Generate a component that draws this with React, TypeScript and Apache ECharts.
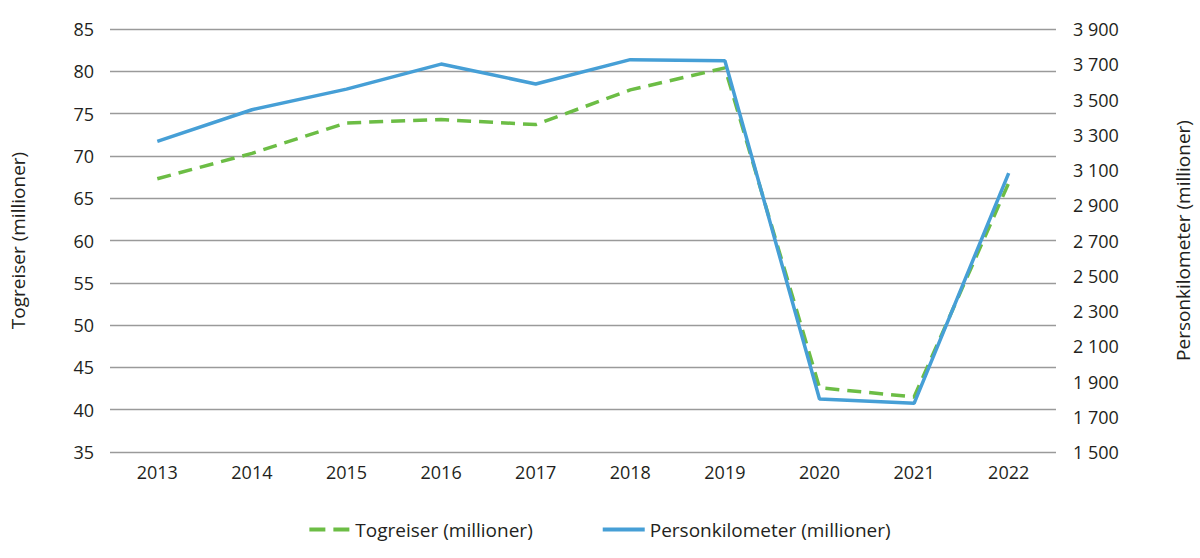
import React, { useEffect, useRef } from "react";
import * as echarts from "echarts";

const years = ["2013", "2014", "2015", "2016", "2017", "2018", "2019", "2020", "2021", "2022"];
const togreiser = [67.3, 70.3, 73.9, 74.3, 73.7, 77.8, 80.4, 42.6, 41.5, 66.8];
const personkm = [3262, 3442, 3559, 3701, 3588, 3726, 3720, 1801, 1776, 3082];
const rightTicks = [1500, 1700, 1900, 2100, 2300, 2500, 2700, 2900, 3100, 3300, 3500, 3700, 3900];
const seriesNames = ["Togreiser (millioner)", "Personkilometer (millioner)"];

const FONT = "'Open Sans', sans-serif";
const TXT = "#231f20";
const GREEN = "#6cbd45";
const BLUE = "#469fd6";

export default function App() {
  const ref = useRef<HTMLDivElement>(null);
  useEffect(() => {
    if (!ref.current) return;
    const chart = echarts.init(ref.current, undefined, { renderer: "svg" });
    chart.setOption({
      animation: false,
      textStyle: { fontFamily: FONT, color: TXT },
      grid: { left: 104, right: 135, top: 29, bottom: 106 },
      legend: {
        bottom: 14,
        left: "center",
        itemWidth: 42,
        itemHeight: 4,
        itemGap: 70,
        textStyle: { fontFamily: FONT, fontSize: 19, color: TXT },
        data: [
          { name: seriesNames[0], icon: "path://M0,0h16v4h-16z M24,0h16v4h-16z", itemStyle: { color: GREEN } },
          { name: seriesNames[1], icon: "path://M0,0h42v4h-42z", itemStyle: { color: BLUE } },
        ],
      },
      xAxis: {
        type: "category",
        data: years,
        boundaryGap: true,
        axisLine: { show: false },
        axisTick: { show: false },
        axisLabel: { fontFamily: FONT, fontSize: 18, color: TXT, margin: 11 },
      },
      yAxis: [
        {
          type: "value",
          min: 35,
          max: 85,
          interval: 5,
          name: "Togreiser (millioner)",
          nameLocation: "middle",
          nameGap: 83,
          nameTextStyle: { fontFamily: FONT, fontSize: 19, color: TXT },
          axisLine: { show: false },
          axisTick: { show: false },
          axisLabel: { fontFamily: FONT, fontSize: 18, color: TXT, margin: 16 },
          splitLine: { lineStyle: { color: "#9a9a9a", width: 1.3 } },
        },
        {
          type: "value",
          min: 1500,
          max: 3900,
          name: "Personkilometer (millioner)",
          nameLocation: "middle",
          nameGap: 117,
          nameTextStyle: { fontFamily: FONT, fontSize: 19, color: TXT },
          axisLine: { show: false },
          axisTick: { show: false },
          splitLine: { show: false },
          axisLabel: {
            customValues: rightTicks,
            fontFamily: FONT,
            fontSize: 18,
            color: TXT,
            margin: 17,
            formatter: (v: number) => String(Math.round(v)).replace(/\B(?=(\d{3})+(?!\d))/g, " "),
          },
        },
      ],
      series: [
        {
          name: seriesNames[0],
          type: "line",
          yAxisIndex: 0,
          data: togreiser,
          symbol: "none",
          z: 2,
          lineStyle: { color: GREEN, width: 3.5, type: [14, 8] },
          itemStyle: { color: GREEN },
        },
        {
          name: seriesNames[1],
          type: "line",
          yAxisIndex: 1,
          data: personkm,
          symbol: "none",
          z: 3,
          lineStyle: { color: BLUE, width: 3.5 },
          itemStyle: { color: BLUE },
        },
      ],
    });
    return () => chart.dispose();
  }, []);
  return (
    <div
      ref={ref}
      style={{ position: "fixed", left: 0, top: 0, width: 1200, height: 558, background: "#fff" }}
    />
  );
}
